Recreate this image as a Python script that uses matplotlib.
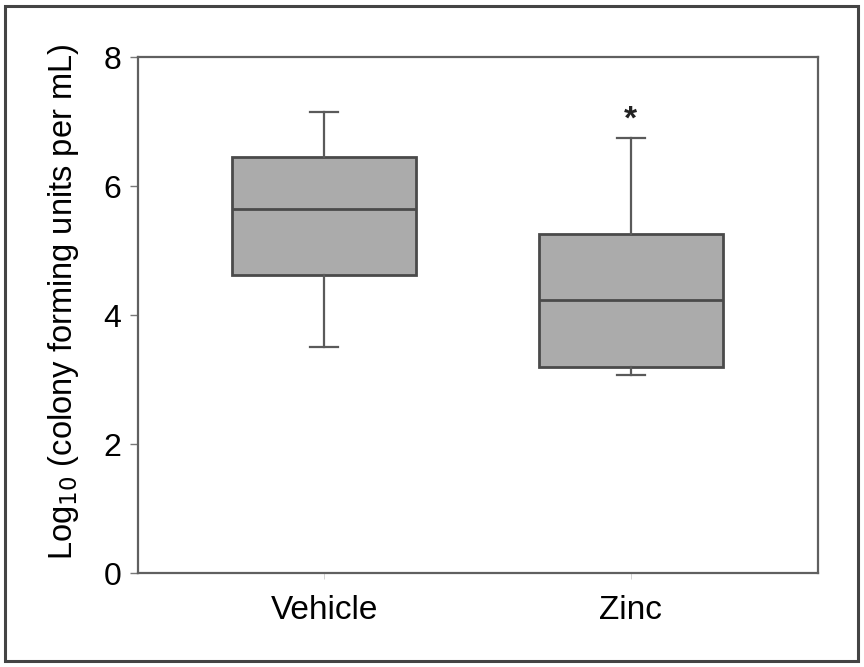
import matplotlib.pyplot as plt
from matplotlib.patches import Rectangle

plt.rcParams['font.family'] = ['Liberation Sans', 'DejaVu Sans']

groups = ["Vehicle", "Zinc"]
whislo = [3.50, 3.07]
q1 = [4.62, 3.19]
med = [5.64, 4.23]
q3 = [6.45, 5.26]
whishi = [7.15, 6.74]
sig_marks = ["", "*"]

stats = [
    dict(label=g, whislo=lo, q1=a, med=m, q3=b, whishi=hi, fliers=[])
    for g, lo, a, m, b, hi in zip(groups, whislo, q1, med, q3, whishi)
]

fig = plt.figure(figsize=(8.64, 6.67), dpi=100)
ax = fig.add_axes([0.1597, 0.1409, 0.787, 0.7736])

edge = "#4a4a4a"
ax.bxp(stats, positions=[1, 2], widths=0.6, patch_artist=True,
       capwidths=0.09,
       boxprops=dict(facecolor="#ababab", edgecolor=edge, linewidth=2),
       medianprops=dict(color=edge, linewidth=2),
       whiskerprops=dict(color="#5a5a5a", linewidth=1.6),
       capprops=dict(color="#5a5a5a", linewidth=1.6))

for i, s in enumerate(sig_marks):
    if s:
        ax.text(i + 1, whishi[i] + 0.28, s, ha="center", va="center",
                fontsize=24, fontweight="bold", color="#222222")

ax.set_xlim(0.393, 2.61)
ax.set_ylim(0, 8)
ax.set_yticks([0, 2, 4, 6, 8])
ax.set_xticks([1, 2])
ax.set_xticklabels(groups)
ax.tick_params(axis="y", labelsize=23, length=6, width=1, color="#777777", pad=6)
ax.tick_params(axis="x", labelsize=24, length=4, width=0.6, color="#cccccc", pad=12)
for sp in ax.spines.values():
    sp.set_color("#606060")
    sp.set_linewidth(1.6)

ax.set_ylabel("Log$_{10}$ (colony forming units per mL)", fontsize=23.5)
ax.yaxis.set_label_coords(-0.084, 0.525)

fig.patches.append(Rectangle((5 / 864, 6 / 667), 853 / 864, 655 / 667,
                             transform=fig.transFigure, fill=False,
                             edgecolor="#444444", linewidth=2.2))

fig.savefig("out.png", dpi=100)
